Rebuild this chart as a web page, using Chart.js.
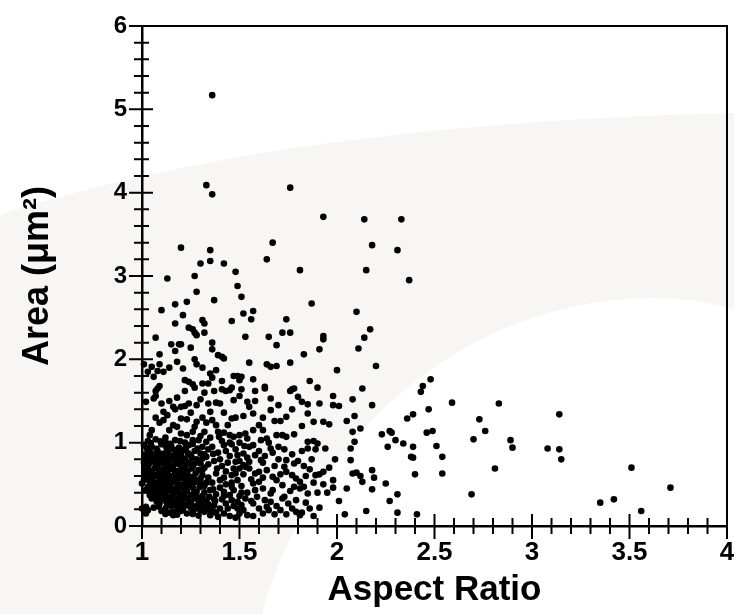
<!DOCTYPE html>
<html>
<head>
<meta charset="utf-8">
<script src="https://cdn.jsdelivr.net/npm/chart.js@4.4.0/dist/chart.umd.min.js"></script>
<style>
  html, body { margin: 0; padding: 0; background: #fff; }
  canvas { display: block; }
</style>
</head>
<body>
<canvas id="areaChart" width="734" height="614"></canvas>
<script>
// tick labels
const xTickValues = [1, 1.5, 2, 2.5, 3, 3.5, 4];
const yTickValues = [0, 1, 2, 3, 4, 5, 6];

// [aspect ratio, area], grouped by region
const outlierPoints = [
  [1.36,5.17],[1.33,4.09],[1.36,3.98],[1.76,4.06],[1.93,3.71],[2.14,3.68],[2.33,3.68],
  [2.18,3.37],[2.31,3.31],[2.15,3.07],[2.37,2.95],[2.10,2.57],[2.17,2.36],[2.14,2.26],
  [2.11,2.13],[2.00,1.87],[2.20,1.92],[2.48,1.76],[1.81,3.07],[1.87,2.67],[1.93,2.28],
  [1.93,2.24],[1.91,2.12],[1.83,2.06],[1.86,1.74],[1.90,1.66],[2.13,1.65],[2.44,1.68],
  [2.43,1.61]
];

const rightPoints = [
  [1.98,1.56],[1.98,1.45],[2.01,1.44],[2.08,1.52],[2.18,1.45],[2.09,1.32],[2.05,1.26],
  [2.12,1.17],[2.08,1.13],[2.09,1.01],[2.07,0.93],[1.99,0.80],[2.07,0.79],[2.08,0.63],
  [2.10,0.64],[2.12,0.60],[2.13,0.53],[2.18,0.67],[2.19,0.58],[2.18,0.44],[1.98,0.55],
  [1.98,0.46],[2.05,0.45],[2.01,0.30],[2.04,0.14],[2.15,0.18],[2.25,0.51],[2.27,0.30],
  [2.31,0.38],[2.31,0.16],[2.41,0.14],[2.40,0.62],[2.38,0.83],[2.39,0.82],[2.39,0.95],
  [2.23,1.10],[2.27,1.14],[2.28,1.12],[2.26,0.95],[2.30,1.03],[2.34,0.99],[2.36,1.29],
  [2.39,1.34],[2.47,1.40],[2.46,1.12],[2.49,1.14],[2.51,0.96],[2.54,0.83],[2.54,0.63],
  [2.59,1.48],[2.70,1.04],[2.73,1.28],[2.76,1.14],[2.69,0.38],[2.81,0.69],[2.83,1.47],
  [2.89,1.03],[2.90,0.94],[3.08,0.93],[3.14,0.92],[3.15,0.80],[3.14,1.34],[3.51,0.70],
  [3.35,0.28],[3.42,0.32],[3.56,0.18],[3.71,0.46]
];

const upperLeftPoints = [
  [1.20,3.34],[1.35,3.31],[1.35,3.18],[1.30,3.15],[1.42,3.15],[1.48,3.05],[1.67,3.40],
  [1.64,3.20],[1.13,2.97],[1.27,3.00],[1.28,2.81],[1.49,2.88],[1.51,2.75],[1.37,2.71],
  [1.10,2.59],[1.17,2.66],[1.23,2.69],[1.21,2.53],[1.17,2.43],[1.52,2.55],[1.57,2.58],
  [1.56,2.48],[1.46,2.46],[1.31,2.47],[1.32,2.43],[1.32,2.32],[1.24,2.38],[1.26,2.36],
  [1.27,2.32],[1.28,2.29],[1.74,2.48],[1.72,2.32],[1.76,2.32],[1.65,2.27],[1.53,2.27],
  [1.69,2.17],[1.07,2.26],[1.15,2.18],[1.19,2.18],[1.20,2.18],[1.17,2.10],[1.25,2.14],
  [1.36,2.20],[1.36,2.12],[1.09,2.06],[1.18,1.97],[1.27,2.00],[1.28,1.94],[1.21,1.89],
  [1.31,1.90],[1.39,2.05],[1.41,2.03],[1.42,2.01],[1.55,1.96],[1.64,1.94],[1.66,1.91],
  [1.69,1.92],[1.76,1.96],[1.01,1.94],[1.05,1.91],[1.09,1.94],[1.03,1.85],[1.06,1.79],
  [1.08,1.86],[1.11,1.85],[1.14,1.90],[1.35,1.83],[1.38,1.87],[1.22,1.75],[1.24,1.73],
  [1.26,1.70],[1.31,1.71],[1.34,1.71],[1.47,1.80],[1.49,1.80],[1.51,1.79],[1.50,1.75],
  [1.57,1.76],[1.63,1.67],[1.63,1.65],[1.41,1.74],[1.46,1.66],[1.41,1.64],[1.43,1.62],
  [1.45,1.63],[1.32,1.60],[1.37,1.62],[1.27,1.66],[1.09,1.68],[1.08,1.65],[1.07,1.62],
  [1.22,1.62],[1.76,1.62],[1.78,1.65],[1.58,1.62],[1.36,1.78],[1.51,1.64],[1.77,1.64]
];

const middlePoints = [
  [1.02,1.49],[1.06,1.53],[1.07,1.56],[1.10,1.47],[1.11,1.37],[1.14,1.50],[1.18,1.54],
  [1.16,1.43],[1.20,1.43],[1.25,1.36],[1.22,1.44],[1.28,1.45],[1.30,1.52],[1.34,1.47],
  [1.35,1.37],[1.38,1.48],[1.40,1.47],[1.47,1.51],[1.50,1.56],[1.54,1.49],[1.55,1.43],
  [1.57,1.35],[1.66,1.39],[1.74,1.31],[1.71,1.26],[1.68,1.26],[1.82,1.49],[1.85,1.46],
  [1.91,1.47],[1.93,1.25],[1.96,1.22],[1.04,1.09],[1.09,1.24],[1.11,1.27],[1.14,1.15],
  [1.16,1.21],[1.18,1.19],[1.20,1.29],[1.23,1.28],[1.20,1.11],[1.23,1.09],[1.27,1.19],
  [1.28,1.25],[1.26,1.03],[1.33,1.24],[1.32,1.13],[1.30,1.08],[1.33,1.01],[1.38,1.21],
  [1.39,1.13],[1.46,1.29],[1.48,1.30],[1.45,1.09],[1.47,1.07],[1.50,1.09],[1.53,1.11],
  [1.54,1.05],[1.60,1.21],[1.62,1.15],[1.69,1.09],[1.72,1.09],[1.74,1.07],[1.64,1.05],
  [1.66,0.93],[1.85,1.01],[1.88,1.02],[1.90,0.99],[1.85,0.93],[1.89,0.92],[1.94,0.93],
  [1.05,1.15],[1.07,1.30],[1.13,1.33],[1.17,1.40],[1.24,1.47],[1.31,1.30],[1.36,1.27],
  [1.42,1.36],[1.44,1.21],[1.52,1.32],[1.57,1.15],[1.42,1.12],[1.12,1.06],[1.26,1.13],
  [1.35,1.06]
];

const densePoints = [
  [1.03,1.02],[1.07,1.04],[1.12,1.01],[1.17,1.03],[1.22,1.00],[1.29,1.03],
  [1.01,0.97],[1.05,0.95],[1.10,0.98],[1.15,0.96],[1.19,0.94],[1.24,0.97],[1.31,0.95],
  [1.03,0.91],[1.08,0.90],[1.13,0.92],[1.18,0.89],[1.21,0.91],[1.27,0.90],[1.34,0.92],
  [1.02,0.86],[1.06,0.85],[1.11,0.87],[1.15,0.84],[1.20,0.86],[1.25,0.85],[1.30,0.87],
  [1.04,0.81],[1.09,0.80],[1.13,0.82],[1.17,0.79],[1.22,0.81],[1.28,0.80],[1.33,0.83],
  [1.01,0.76],[1.06,0.77],[1.10,0.75],[1.14,0.77],[1.19,0.74],[1.24,0.76],[1.30,0.75],
  [1.03,0.71],[1.08,0.72],[1.12,0.70],[1.16,0.72],[1.21,0.69],[1.26,0.71],[1.32,0.70],
  [1.05,0.66],[1.09,0.67],[1.13,0.65],[1.18,0.66],[1.23,0.64],[1.29,0.67],
  [1.02,0.62],[1.07,0.61],[1.11,0.63],[1.15,0.60],[1.20,0.62],[1.25,0.59],[1.31,0.61],
  [1.04,0.57],[1.09,0.56],[1.13,0.58],[1.17,0.55],[1.22,0.57],[1.27,0.56],[1.34,0.58],
  [1.06,0.52],[1.11,0.51],[1.15,0.53],[1.19,0.50],[1.24,0.52],[1.30,0.51],
  [1.03,0.47],[1.08,0.46],[1.12,0.48],[1.17,0.45],[1.21,0.47],[1.26,0.46],[1.32,0.48],
  [1.06,0.42],[1.10,0.41],[1.14,0.43],[1.19,0.40],[1.23,0.42],[1.28,0.41],[1.35,0.43],
  [1.08,0.37],[1.12,0.36],[1.16,0.38],[1.21,0.35],[1.25,0.37],[1.31,0.36],
  [1.11,0.32],[1.18,0.31],[1.27,0.33],[1.30,0.30],[1.37,0.32],
  [1.09,0.27],[1.13,0.26],[1.17,0.28],[1.23,0.25],[1.29,0.27],[1.34,0.26],
  [1.06,0.22],[1.12,0.21],[1.18,0.23],[1.25,0.22],[1.33,0.20],
  [1.10,0.18],[1.14,0.16],[1.20,0.18],[1.23,0.15],[1.32,0.17],[1.38,0.16],
  [1.115,0.745],[1.145,0.695],[1.175,0.615],[1.135,0.535],[1.195,0.575],[1.165,0.845],
  [1.205,0.775],[1.125,0.455],[1.235,0.665],[1.185,0.415],[1.155,0.355],[1.095,0.615],
  [1.255,0.535]
];

const coreFillPoints = [
  [1.045,0.995],[1.095,1.015],[1.145,0.985],[1.195,1.02],[1.26,0.985],
  [1.025,0.935],[1.075,0.925],[1.125,0.945],[1.165,0.915],[1.225,0.935],[1.285,0.93],
  [1.045,0.875],[1.085,0.865],[1.135,0.885],[1.185,0.865],[1.235,0.875],[1.32,0.86],
  [1.02,0.815],[1.065,0.825],[1.11,0.805],[1.155,0.815],[1.195,0.805],[1.255,0.82],[1.31,0.81],
  [1.035,0.745],[1.08,0.755],[1.13,0.735],[1.175,0.755],[1.225,0.735],[1.27,0.75],[1.34,0.74],
  [1.015,0.685],[1.065,0.695],[1.11,0.675],[1.155,0.685],[1.2,0.675],[1.255,0.69],[1.31,0.675],
  [1.035,0.635],[1.085,0.64],[1.13,0.625],[1.17,0.635],[1.225,0.615],[1.275,0.63],
  [1.02,0.585],[1.06,0.59],[1.11,0.575],[1.15,0.58],[1.205,0.595],[1.245,0.575],[1.3,0.565],
  [1.04,0.535],[1.085,0.525],[1.13,0.505],[1.175,0.52],[1.215,0.505],[1.27,0.525],[1.33,0.52],
  [1.055,0.48],[1.1,0.47],[1.145,0.475],[1.19,0.465],[1.24,0.48],[1.295,0.465],
  [1.04,0.415],[1.08,0.425],[1.125,0.395],[1.17,0.415],[1.215,0.395],[1.265,0.39],[1.32,0.405],
  [1.06,0.355],[1.1,0.345],[1.14,0.335],[1.19,0.345],[1.235,0.325],[1.285,0.345],[1.345,0.35],
  [1.075,0.295],[1.125,0.29],[1.16,0.305],[1.205,0.295],[1.25,0.285],[1.315,0.29],
  [1.085,0.235],[1.15,0.24],[1.21,0.205],[1.27,0.235],[1.3,0.21],[1.36,0.22],
  [1.12,0.145],[1.18,0.135],[1.26,0.145],[1.29,0.125],[1.35,0.19]
];

const lowerPoints = [
  [1.01,0.55],[1.00,0.51],[1.02,0.43],[1.04,0.37],[1.05,0.33],[1.00,0.21],[1.02,0.23],
  [1.02,0.15],[1.03,0.19],[1.08,0.33],[1.15,0.31],[1.15,0.25],[1.16,0.13],[1.18,0.17],
  [1.16,0.17],[1.20,0.27],[1.21,0.23],[1.22,0.35],[1.24,0.29],[1.26,0.17],[1.28,0.21],
  [1.30,0.19],[1.31,0.23],[1.33,0.31],[1.35,0.13],[1.37,0.17],[1.40,0.21],[1.42,0.15],
  [1.44,0.21],[1.46,0.31],[1.49,0.21],[1.50,0.15],[1.52,0.19],[1.54,0.13],[1.57,0.27],
  [1.60,0.21],[1.62,0.15],[1.64,0.23],[1.66,0.29],[1.69,0.24],[1.72,0.33],[1.73,0.35],
  [1.77,0.21],[1.79,0.17],[1.81,0.13],[1.82,0.16],[1.86,0.21],[1.78,0.47],[1.81,0.45],
  [1.83,0.47],[1.85,0.39]
];

const centrePoints = [
  [1.36,0.95],[1.39,0.88],[1.42,0.97],[1.45,0.84],[1.48,0.92],[1.52,0.87],[1.37,0.78],
  [1.41,0.72],[1.44,0.76],[1.47,0.69],[1.50,0.78],[1.53,0.71],[1.38,0.63],[1.42,0.58],
  [1.46,0.61],[1.49,0.55],[1.52,0.62],[1.36,0.52],[1.40,0.46],[1.43,0.50],[1.47,0.43],
  [1.51,0.48],[1.54,0.40],[1.38,0.38],[1.41,0.32],[1.45,0.37],[1.49,0.29],[1.53,0.33],
  [1.37,0.25],[1.43,0.27],[1.47,0.24],[1.51,0.25],[1.39,0.11],[1.45,0.12],[1.48,0.10],
  [1.41,1.02],[1.50,1.00],[1.55,0.95],[1.54,0.82],[1.40,0.55],[1.46,0.52],
  [1.49,0.85],[1.48,0.77],[1.50,0.69],[1.52,0.73],[1.55,0.69],[1.55,0.77],[1.61,0.79],
  [1.62,0.76],[1.64,0.67],[1.57,0.51],[1.60,0.53],[1.58,0.43],[1.67,0.59],[1.71,0.62],
  [1.74,0.65],[1.74,0.79],[1.77,0.61],[1.79,0.57],[1.81,0.53],[1.67,0.43],[1.66,0.39],
  [1.89,0.61],[1.91,0.62],[1.93,0.65],
  [1.57,0.97],[1.60,0.90],[1.63,0.84],[1.67,0.88],[1.70,0.80],[1.73,0.92],[1.77,0.86],
  [1.80,0.78],[1.83,0.72],[1.87,0.80],[1.58,0.63],[1.62,0.58],[1.68,0.72],[1.72,0.49],
  [1.76,0.42],[1.84,0.60],[1.88,0.52],[1.59,0.35],[1.63,0.31],[1.68,0.14],[1.71,0.19],
  [1.75,0.27],[1.79,0.31],[1.84,0.28],[1.88,0.12],[1.91,0.22],[1.95,0.40],[1.93,0.50],
  [1.96,0.70],
  [1.365,0.865],[1.40,0.80],[1.43,0.90],[1.46,0.98],[1.385,0.69],[1.43,0.655],[1.48,0.63],
  [1.365,0.44],[1.42,0.41],[1.46,0.47],[1.51,0.40],[1.375,0.30],[1.42,0.36],[1.50,0.36],
  [1.56,0.30],[1.395,1.07],[1.45,1.00],[1.525,0.96],[1.56,0.56],[1.58,0.85],[1.60,0.65],
  [1.62,0.45],[1.65,1.00],[1.70,0.95],[1.69,0.55],[1.73,0.71],[1.78,0.75],[1.82,0.90],
  [1.86,0.68],[1.90,0.40],[1.57,0.12],[1.65,0.19],[1.74,0.14],[1.61,1.03],[1.78,1.10],
  [1.82,1.20],[1.85,1.35],[1.70,1.45],[1.62,1.30],[1.77,1.40],[1.58,1.50],[1.66,1.53],
  [1.88,1.25],[1.80,1.55]
];

const allPoints = [].concat(outlierPoints, rightPoints, upperLeftPoints, middlePoints,
  densePoints, coreFillPoints, lowerPoints, centrePoints);

const fontFamily = "'Liberation Sans', Arial, Helvetica, sans-serif";

// pale swoosh behind the plot
const backdrop = {
  id: 'backdrop',
  beforeDraw(chart) {
    const ctx = chart.ctx;
    ctx.save();
    ctx.fillStyle = '#ffffff';
    ctx.fillRect(0, 0, chart.width, chart.height);
    ctx.fillStyle = '#f7f6f4';
    ctx.beginPath();
    ctx.moveTo(0, 215);
    ctx.bezierCurveTo(200, 150, 450, 120, 734, 113);
    ctx.lineTo(734, 310);
    ctx.quadraticCurveTo(700, 298, 650, 298);
    ctx.bezierCurveTo(460, 300, 310, 440, 262, 614);
    ctx.lineTo(0, 614);
    ctx.closePath();
    ctx.fill();
    ctx.restore();
  }
};

// box on top/right plus ticks that cross the left and bottom axes
const frameTicks = {
  id: 'frameTicks',
  beforeDatasetsDraw(chart) {
    const {ctx, chartArea: a, scales: {x, y}} = chart;
    ctx.save();
    ctx.strokeStyle = '#000';
    ctx.lineWidth = 2;
    ctx.beginPath();
    ctx.moveTo(a.left, a.top);
    ctx.lineTo(a.right, a.top);
    ctx.lineTo(a.right, a.bottom);
    for (let i = 0; i <= 30; i++) {
      const big = i % 5 === 0;
      const px = x.getPixelForValue(1 + i / 10);
      ctx.moveTo(px, a.bottom - (big ? 12 : 8));
      ctx.lineTo(px, a.bottom + (big ? 13 : 8));
      const py = y.getPixelForValue(i / 5);
      ctx.moveTo(a.left - (big ? 13 : 8), py);
      ctx.lineTo(a.left + (big ? 11 : 7), py);
    }
    ctx.stroke();
    ctx.restore();
  }
};

new Chart(document.getElementById('areaChart'), {
  type: 'scatter',
  data: {
    datasets: [{
      data: allPoints,
      pointRadius: 3.3,
      pointBackgroundColor: '#000',
      pointBorderWidth: 0,
      clip: false
    }]
  },
  options: {
    responsive: false,
    animation: false,
    layout: { padding: { top: 26, right: 7, left: 0, bottom: 0 } },
    plugins: { legend: { display: false }, tooltip: { enabled: false } },
    scales: {
      x: {
        type: 'linear',
        min: 1,
        max: 4,
        afterBuildTicks: s => { s.ticks = xTickValues.map(v => ({ value: v })); },
        afterFit: s => { s.height = 88; s.paddingLeft = 0; s.paddingRight = 0; },
        grid: { display: false, drawTicks: false },
        border: { display: true, color: '#000', width: 2.5 },
        ticks: {
          color: '#000',
          padding: 11,
          maxRotation: 0,
          autoSkip: false,
          font: { family: fontFamily, size: 26, weight: 'bold' },
          callback: v => String(v)
        },
        title: {
          display: true,
          text: 'Aspect Ratio',
          color: '#000',
          padding: { top: 0, bottom: 3 },
          font: { family: fontFamily, size: 35, weight: 'bold' }
        }
      },
      y: {
        type: 'linear',
        min: 0,
        max: 6,
        afterBuildTicks: s => { s.ticks = yTickValues.map(v => ({ value: v })); },
        afterFit: s => { s.width = 142; s.paddingTop = 0; s.paddingBottom = 0; },
        grid: { display: false, drawTicks: false },
        border: { display: true, color: '#000', width: 2.5 },
        ticks: {
          color: '#000',
          padding: 15,
          font: { family: fontFamily, size: 24, weight: 'bold' },
          callback: v => String(v)
        },
        title: {
          display: true,
          text: 'Area (μm²)',
          color: '#000',
          padding: { top: 16, bottom: 0 },
          font: { family: fontFamily, size: 36, weight: 'bold' }
        }
      }
    }
  },
  plugins: [backdrop, frameTicks]
});
</script>
</body>
</html>
